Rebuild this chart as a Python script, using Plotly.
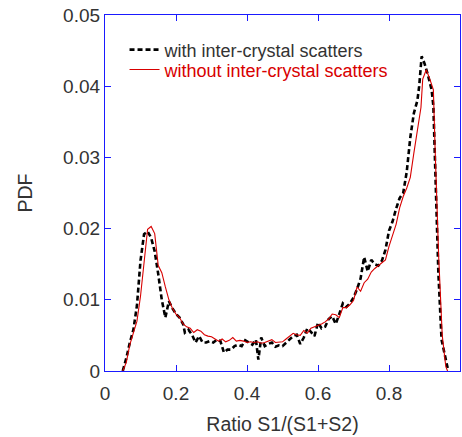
import plotly.graph_objects as go

# PDF of the light-sharing ratio S1/(S1+S2)
ratio_with = [0.050, 0.060, 0.070, 0.080, 0.090, 0.095, 0.100, 0.110, 0.120, 0.130,
              0.140, 0.150, 0.160, 0.170, 0.180, 0.190, 0.200, 0.210, 0.220, 0.225,
              0.235, 0.245, 0.255, 0.265, 0.275, 0.285, 0.295, 0.305, 0.315, 0.325,
              0.335, 0.345, 0.355, 0.365, 0.375, 0.385, 0.395, 0.405, 0.415, 0.425,
              0.432, 0.440, 0.450, 0.460, 0.470, 0.480, 0.490, 0.500, 0.510, 0.520,
              0.530, 0.540, 0.550, 0.560, 0.570, 0.580, 0.590, 0.600, 0.610, 0.620,
              0.630, 0.640, 0.650, 0.660, 0.670, 0.680, 0.690, 0.700, 0.710, 0.720,
              0.730, 0.740, 0.750, 0.760, 0.770, 0.780, 0.790, 0.800, 0.810, 0.820,
              0.830, 0.840, 0.850, 0.860, 0.870, 0.880, 0.885, 0.892, 0.900, 0.910,
              0.920, 0.925, 0.932, 0.939, 0.948, 0.960, 0.967]
pdf_with = [0.0000, 0.0018, 0.0040, 0.0058, 0.0092, 0.0130, 0.0155, 0.0192, 0.0196, 0.0187,
            0.0168, 0.0136, 0.0100, 0.0075, 0.0098, 0.0088, 0.0080, 0.0075, 0.0066, 0.0054,
            0.0058, 0.0051, 0.0040, 0.0049, 0.0040, 0.0040, 0.0042, 0.0040, 0.0044, 0.0042,
            0.0026, 0.0030, 0.0030, 0.0035, 0.0037, 0.0035, 0.0043, 0.0040, 0.0037, 0.0044,
            0.0016, 0.0047, 0.0035, 0.0038, 0.0040, 0.0034, 0.0036, 0.0035, 0.0040, 0.0045,
            0.0049, 0.0051, 0.0038, 0.0047, 0.0060, 0.0055, 0.0049, 0.0068, 0.0060, 0.0062,
            0.0073, 0.0077, 0.0066, 0.0080, 0.0095, 0.0090, 0.0095, 0.0103, 0.0115, 0.0130,
            0.0160, 0.0140, 0.0156, 0.0150, 0.0148, 0.0155, 0.0170, 0.0197, 0.0210, 0.0228,
            0.0243, 0.0250, 0.0280, 0.0328, 0.0362, 0.0380, 0.0400, 0.0442, 0.0432, 0.0415,
            0.0395, 0.0372, 0.0255, 0.0138, 0.0044, 0.0016, 0.0000]

ratio_without = [0.050, 0.060, 0.070, 0.080, 0.090, 0.100, 0.110, 0.120, 0.130, 0.140,
                 0.150, 0.160, 0.170, 0.180, 0.190, 0.200, 0.210, 0.220, 0.230, 0.240,
                 0.250, 0.260, 0.270, 0.280, 0.290, 0.300, 0.310, 0.320, 0.330, 0.340,
                 0.350, 0.360, 0.370, 0.380, 0.390, 0.400, 0.410, 0.420, 0.430, 0.440,
                 0.450, 0.460, 0.470, 0.480, 0.490, 0.500, 0.510, 0.520, 0.530, 0.540,
                 0.550, 0.560, 0.570, 0.580, 0.590, 0.600, 0.610, 0.620, 0.630, 0.640,
                 0.650, 0.660, 0.670, 0.680, 0.690, 0.700, 0.710, 0.720, 0.730, 0.740,
                 0.750, 0.760, 0.770, 0.780, 0.790, 0.800, 0.810, 0.820, 0.830, 0.840,
                 0.850, 0.860, 0.870, 0.880, 0.890, 0.895, 0.905, 0.915, 0.925, 0.930,
                 0.940, 0.950, 0.960, 0.965]
pdf_without = [0.0000, 0.0012, 0.0037, 0.0054, 0.0070, 0.0105, 0.0152, 0.0199, 0.0203, 0.0193,
               0.0148, 0.0138, 0.0118, 0.0100, 0.0088, 0.0080, 0.0075, 0.0066, 0.0062, 0.0060,
               0.0054, 0.0058, 0.0056, 0.0051, 0.0049, 0.0048, 0.0045, 0.0042, 0.0045, 0.0041,
               0.0043, 0.0047, 0.0042, 0.0043, 0.0042, 0.0040, 0.0041, 0.0040, 0.0041, 0.0039,
               0.0040, 0.0042, 0.0044, 0.0040, 0.0041, 0.0041, 0.0045, 0.0049, 0.0053, 0.0051,
               0.0050, 0.0057, 0.0053, 0.0060, 0.0062, 0.0063, 0.0066, 0.0069, 0.0073, 0.0080,
               0.0079, 0.0075, 0.0089, 0.0089, 0.0093, 0.0099, 0.0118, 0.0112, 0.0124, 0.0129,
               0.0139, 0.0144, 0.0148, 0.0151, 0.0156, 0.0175, 0.0192, 0.0206, 0.0229, 0.0245,
               0.0257, 0.0272, 0.0306, 0.0335, 0.0370, 0.0410, 0.0423, 0.0410, 0.0395, 0.0310,
               0.0160, 0.0050, 0.0006, 0.0000]

x_ticks = [0, 0.2, 0.4, 0.6, 0.8, 1]
x_tick_labels = ["0", "0.2", "0.4", "0.6", "0.8", "1"]
y_ticks = [0, 0.01, 0.02, 0.03, 0.04, 0.05]
y_tick_labels = ["0", "0.01", "0.02", "0.03", "0.04", "0.05"]

AXIS_BLUE = "#1a1aff"
TEXT_GRAY = "#333333"
RED = "#d80000"
FONT = "Liberation Sans, Arial"

fig = go.Figure()
fig.add_trace(go.Scatter(
    x=ratio_with, y=pdf_with, mode="lines",
    name="with inter-crystal scatters",
    line=dict(color="black", width=2.6, dash="5px,3px"),
    legend="legend",
))
fig.add_trace(go.Scatter(
    x=ratio_without, y=pdf_without, mode="lines",
    name=f"<span style='color:{RED}'>without inter-crystal scatters</span>",
    line=dict(color=RED, width=1.1),
    legend="legend2",
))

axis_common = dict(
    showline=True, linecolor=AXIS_BLUE, linewidth=1.3, mirror="ticks",
    ticks="inside", ticklen=6, tickcolor=AXIS_BLUE, tickwidth=1.3,
    showgrid=False, zeroline=False,
    tickfont=dict(family=FONT, size=19, color=TEXT_GRAY),
)

legend_common = dict(
    xanchor="left", yanchor="middle",
    bgcolor="rgba(0,0,0,0)", borderwidth=0,
    font=dict(family=FONT, size=18, color=TEXT_GRAY),
    itemwidth=30,
)

fig.update_layout(
    width=462, height=437,
    margin=dict(l=105, r=2, t=15, b=66),
    paper_bgcolor="white", plot_bgcolor="white",
    showlegend=True,
    legend=dict(x=0.055, y=0.902, **legend_common),
    legend2=dict(x=0.055, y=0.846, **legend_common),
    xaxis=dict(
        range=[0, 1], tickvals=x_ticks, ticktext=x_tick_labels,
        ticklabelstandoff=5,
        title=dict(text="Ratio S1/(S1+S2)", standoff=14,
                   font=dict(family=FONT, size=19.5, color=TEXT_GRAY)),
        **axis_common,
    ),
    yaxis=dict(
        range=[0, 0.05], tickvals=y_ticks, ticktext=y_tick_labels,
        title=dict(text="PDF", standoff=25,
                   font=dict(family=FONT, size=19.5, color=TEXT_GRAY)),
        **axis_common,
    ),
)

fig.write_html("out.html")
